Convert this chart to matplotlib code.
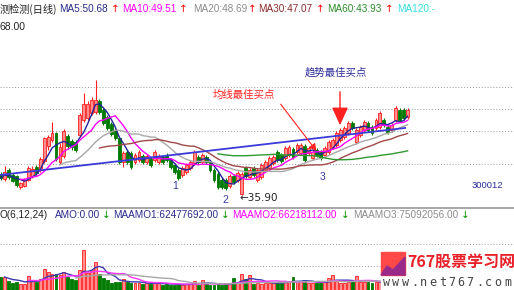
import matplotlib
matplotlib.use("Agg")
import matplotlib.pyplot as plt
import numpy as np
import pandas as pd
from matplotlib.patches import FancyArrowPatch, Rectangle, Polygon
from matplotlib.lines import Line2D

# ---------------- data ----------------
opens = [39.89, 38.94, 40.64, 39.70, 39.51, 37.43, 37.62, 38.75, 39.51, 41.21,
         40.64, 42.34, 45.17, 46.30, 47.62, 42.15, 43.28, 47.06, 46.11, 45.92,
         47.25, 50.08, 50.45, 51.40, 51.59, 53.66, 51.96, 50.64, 49.32, 48.19,
         46.68, 42.15, 44.04, 43.85, 42.15, 42.53, 43.28, 42.15, 42.72, 42.53,
         42.15, 43.09, 43.47, 42.53, 41.59, 40.64, 39.70, 40.26, 41.02, 41.96,
         43.09, 42.15, 43.09, 42.15, 40.64, 39.89, 38.75, 38.75, 37.62, 39.51,
         38.75, 36.11, 41.02, 39.32, 41.02, 38.75, 39.32, 40.64, 41.02, 41.96,
         44.04, 43.47, 42.91, 43.47, 44.60, 44.04, 43.85, 45.17, 43.85, 42.91,
         44.42, 44.04, 43.47, 44.04, 44.98, 45.36, 46.30, 46.87, 47.62, 49.51,
         45.92, 47.25, 48.19, 49.51, 48.75, 48.57, 48.75, 50.08, 48.75, 48.19,
         50.08, 51.96, 51.96, 50.64]
closes = [39.13, 40.26, 39.32, 38.57, 37.81, 38.19, 38.75, 41.02, 40.83, 40.08,
          42.72, 46.68, 46.87, 47.62, 42.72, 44.98, 48.00, 45.17, 44.98, 44.42,
          51.02, 53.09, 53.09, 53.85, 53.85, 51.59, 49.51, 48.57, 47.43, 46.68,
          42.15, 43.85, 42.15, 41.21, 43.47, 44.04, 42.15, 43.28, 41.59, 44.04,
          43.28, 42.15, 42.53, 41.21, 40.26, 39.13, 41.02, 41.59, 42.15, 44.04,
          42.15, 43.47, 42.15, 40.64, 38.75, 37.43, 37.43, 37.25, 39.51, 38.38,
          40.08, 39.89, 39.51, 40.64, 39.70, 40.64, 41.59, 42.15, 42.91, 43.09,
          42.53, 42.34, 44.79, 44.98, 43.09, 45.36, 45.36, 42.53, 44.79, 44.04,
          43.47, 42.91, 44.79, 45.92, 46.30, 47.62, 48.19, 48.57, 49.51, 48.57,
          48.19, 48.75, 49.70, 48.19, 47.62, 50.08, 51.40, 49.13, 47.81, 49.13,
          52.34, 50.08, 50.45, 51.96]
highs = [40.26, 41.40, 41.02, 40.08, 39.70, 38.38, 39.13, 41.40, 41.40, 41.59,
         43.09, 46.87, 47.25, 49.70, 47.81, 45.74, 48.38, 47.43, 46.49, 46.30,
         51.40, 55.17, 53.66, 54.42, 57.62, 54.04, 52.34, 51.02, 49.70, 48.57,
         47.06, 44.23, 44.42, 44.23, 43.85, 44.42, 43.66, 43.66, 43.09, 44.42,
         43.66, 43.47, 43.85, 42.91, 41.96, 41.02, 41.40, 41.96, 42.53, 44.42,
         43.47, 43.85, 43.47, 42.53, 41.02, 40.26, 39.13, 39.13, 39.89, 39.89,
         40.45, 40.26, 41.40, 41.02, 41.40, 41.02, 41.96, 42.53, 43.28, 43.47,
         44.42, 43.85, 45.17, 45.36, 44.98, 45.74, 45.74, 45.55, 45.17, 44.42,
         44.79, 44.42, 45.17, 46.30, 46.68, 48.00, 48.57, 48.94, 49.89, 49.89,
         48.57, 49.13, 50.08, 49.89, 49.13, 50.45, 51.77, 50.45, 49.13, 49.51,
         52.72, 52.34, 52.34, 52.34]
lows = [38.75, 38.57, 38.94, 38.38, 37.43, 37.06, 37.43, 38.57, 39.13, 39.70,
        40.26, 41.96, 44.42, 45.92, 42.34, 41.77, 42.91, 44.60, 44.42, 44.04,
        46.87, 49.70, 50.08, 51.02, 51.21, 51.21, 49.13, 48.19, 47.06, 46.30,
        41.77, 41.21, 41.77, 40.83, 41.77, 42.15, 41.77, 41.77, 41.21, 42.15,
        41.77, 41.77, 42.15, 40.83, 39.89, 38.75, 39.32, 39.89, 40.64, 41.59,
        41.77, 41.77, 41.77, 40.26, 38.38, 37.06, 37.06, 36.87, 37.25, 38.00,
        38.38, 35.90, 39.13, 38.94, 39.32, 38.38, 38.94, 40.26, 40.64, 41.59,
        42.15, 41.96, 42.53, 43.09, 42.72, 43.66, 43.47, 42.15, 43.47, 42.53,
        43.09, 42.53, 43.09, 43.66, 44.60, 44.98, 45.92, 46.49, 47.25, 48.19,
        45.55, 46.87, 47.81, 47.81, 47.25, 48.19, 48.38, 48.75, 47.43, 47.81,
        49.70, 49.70, 50.08, 50.26]
# turnover amount, million yuan
amounts = [91, 91, 63, 49, 56, 42, 42, 98, 70, 56,
           77, 147, 126, 112, 112, 105, 126, 91, 77, 70,
           140, 280, 119, 140, 196, 112, 84, 70, 49, 56,
           56, 77, 56, 49, 49, 49, 42, 49, 42, 49,
           49, 35, 42, 35, 35, 42, 35, 42, 42, 63,
           35, 70, 42, 35, 35, 42, 35, 42, 49, 84,
           49, 112, 77, 105, 42, 49, 42, 49, 49, 56,
           49, 49, 56, 63, 91, 56, 56, 70, 49, 49,
           49, 49, 56, 84, 105, 70, 49, 49, 56, 70,
           98, 56, 56, 56, 49, 56, 63, 56, 49, 49,
           70, 63, 56, 63]
ma_periods = [5, 10, 20, 30, 60]
ma_colors = ["#23239a", "#ff00ff", "#a8a8a8", "#a04848", "#2f9a2f"]
amo_periods = [6, 12, 24]
amo_colors = ["#3a3ab0", "#ff33ff", "#a8a8a8"]
trend_x = [-0.18, 102.4]
trend_y = [39.70, 48.57]
grid_levels = [56.30, 52.15, 48.00, 41.77]
amo_grid = [168, 322]
low_label = "←35.90"

header_items = [("测检测(日线)", 0, "#222222"), ("MA5:50.68", 59, "#2a2a8c"),
                ("MA10:49.51", 122, "#ff00ff"), ("MA20:48.69", 193, "#8c8c8c"),
                ("MA30:47.07", 258, "#8c2c2c"), ("MA60:43.93", 327, "#2c8c2c"),
                ("MA120:-", 397, "#33dddd")]
up_arrow_x = [111, 179, 248, 316, 385]
sub_items = [("O(6,12,24)", 0, "#222222"), ("AMO:0.00", 55, "#2a2a8c"),
             ("MAAMO1:62477692.00", 113, "#2a2a8c"),
             ("MAAMO2:66218112.00", 232, "#ff00ff"),
             ("MAAMO3:75092056.00", 353, "#8c8c8c")]
down_arrow_x = [102, 221, 341, 461]

# ---------------- figure ----------------
W, H = 514, 290
fig = plt.figure(figsize=(W / 100, H / 100), dpi=100)
fig.patch.set_facecolor("white")


def fx(x):
    return x / W


def fy(y):
    return 1 - y / H


n = len(closes)
idx = np.arange(n)
o = np.array(opens); c = np.array(closes); hi = np.array(highs); lo = np.array(lows)
up = c >= o
RED_F, RED_E, GREEN = "#ff8e8e", "#ff1e1e", "#007a00"

xl = (-0.7 / 3.95, (W - 0.7) / 3.95)

ax = fig.add_axes([0, fy(208), 1, (208 - 20) / H])
ax.set_xlim(*xl)
ax.set_ylim(33.47, 68.94)
ax.set_axis_off()
for g in grid_levels:
    ax.axhline(g, color="#9a9a9a", lw=0.7, ls=(0, (1, 2)), zorder=0)

# candles
ax.vlines(idx[up], lo[up], hi[up], color=RED_E, lw=0.8, zorder=3)
ax.vlines(idx[~up], lo[~up], hi[~up], color=GREEN, lw=0.8, zorder=3)
body_b = np.minimum(o, c)
body_h = np.maximum(np.abs(c - o), 0.12)
ax.bar(idx[up], body_h[up], bottom=body_b[up], width=0.72, color=RED_F,
       edgecolor=RED_E, linewidth=0.6, zorder=4)
ax.bar(idx[~up], body_h[~up], bottom=body_b[~up], width=0.72, color=GREEN,
       edgecolor=GREEN, linewidth=0.6, zorder=4)

# moving averages
cs = pd.Series(closes)
for p, col in zip(ma_periods, ma_colors):
    ma = cs.rolling(p, min_periods=max(1, p - 4)).mean()
    ax.plot(idx, ma, color=col, lw=1.0, zorder=5)

# trend line
ax.plot(trend_x, trend_y, color="#3a3ad8", lw=1.3, zorder=6)

# ---------------- volume panel ----------------
vax = fig.add_axes([0, 0, 1, 68 / H])
vax.set_xlim(*xl)
vax.set_ylim(0, 476)
vax.set_axis_off()
for g in amo_grid:
    vax.axhline(g, color="#9a9a9a", lw=0.7, ls=(0, (1, 2)), zorder=0)
am = np.array(amounts)
vax.bar(idx[up], am[up], width=0.72, color=RED_F, edgecolor=RED_E, linewidth=0.6, zorder=3)
vax.bar(idx[~up], am[~up], width=0.72, color=GREEN, edgecolor=GREEN, linewidth=0.6, zorder=3)
ams = pd.Series(amounts)
for p, col in zip(amo_periods, amo_colors):
    vax.plot(idx, ams.rolling(p, min_periods=max(1, p - 4)).mean(), color=col, lw=1.0, zorder=4)

# separator
fig.add_artist(Line2D([0, 1], [fy(208), fy(208)], color="#a0a0a0", lw=1.3,
                      transform=fig.transFigure))

# ---------------- texts ----------------
CJK = ["Noto Sans CJK SC", "DejaVu Sans"]
LAT = ["Liberation Sans", "DejaVu Sans"]
for t, x, col in header_items:
    fam = CJK if "日" in t else LAT
    fig.text(fx(x), fy(9), t, color=col, fontsize=7.3 if fam is CJK else 7.2,
             family=fam, va="center", ha="left")
for x in up_arrow_x:
    fig.text(fx(x), fy(9), "↑", color="#ff0000", fontsize=7.5, family=["DejaVu Sans"],
             va="center", ha="left")
fig.text(fx(0), fy(27), "68.00", color="#222222", fontsize=7.5, family=LAT, va="center")

for t, x, col in sub_items:
    fig.text(fx(x), fy(215), t, color=col, fontsize=7.2, family=LAT, va="center", ha="left")
for x in down_arrow_x:
    fig.text(fx(x), fy(215), "↓", color="#009000", fontsize=7.5, family=["DejaVu Sans"],
             va="center", ha="left")

fig.text(fx(213), fy(95), "均线最佳买点", color="#ff2020", fontsize=7.5, family=CJK, va="center")
fig.text(fx(305), fy(73), "趋势最佳买点", color="#2a2a9a", fontsize=7.5, family=CJK, va="center")
fig.add_artist(FancyArrowPatch((fx(279), fy(102)), (fx(318), fy(153)),
                               transform=fig.transFigure, arrowstyle="-|>,head_length=4,head_width=2.2",
                               color="#ff2020", lw=0.8, mutation_scale=1))
fig.add_artist(FancyArrowPatch((fx(340), fy(89)), (fx(340), fy(128)),
                               transform=fig.transFigure, arrowstyle="-|>,head_length=11,head_width=5",
                               color="#ff2020", lw=1.0, mutation_scale=1))

for t, x, y in [("1", 172, 186), ("2", 222, 200), ("3", 320, 177)]:
    fig.text(fx(x), fy(y), t, color="#3a3aa8", fontsize=7.5, family=LAT, va="center")
fig.text(fx(240), fy(198), low_label, color="#222222", fontsize=7.5,
         family=["DejaVu Sans"], va="center")
fig.text(fx(472), fy(186), "300012", color="#2a2a9a", fontsize=6.8, family=LAT, va="center")

# ---------------- logo ----------------
fig.add_artist(Rectangle((fx(381), fy(275)), 24 / W, 23 / H, color="#ff4848",
                         transform=fig.transFigure, zorder=10))
fig.add_artist(Polygon([(fx(381), fy(275)), (fx(387), fy(266)), (fx(393), fy(270)),
                        (fx(405), fy(257)), (fx(405), fy(275))], closed=True,
                       color="#9a2a8a", transform=fig.transFigure, zorder=11))
fig.add_artist(Rectangle((fx(405), fy(275)), 109 / W, 23 / H, color="white",
                         transform=fig.transFigure, zorder=9))
fig.add_artist(Rectangle((fx(381), fy(290)), 133 / W, 15 / H, color="white",
                         transform=fig.transFigure, zorder=9))
fig.text(fx(407), fy(262), "767股票学习网", color="#e8202a", fontsize=11.5,
         family=CJK, fontweight="bold", va="center", zorder=12)
for k, ch in enumerate("www.net767.com"):
    fig.text(fx(383 + k * 9.3), fy(283), ch, color="#444444", fontsize=8.5,
             family=["DejaVu Sans Mono"], va="center", zorder=12)

fig.savefig("out.png", dpi=100, facecolor="white")
